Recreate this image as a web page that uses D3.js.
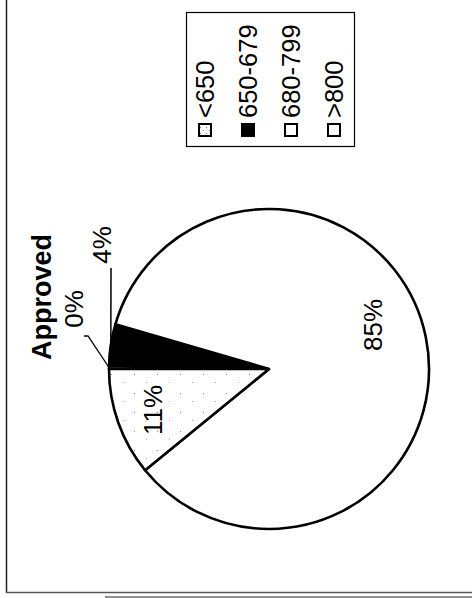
<!DOCTYPE html>
<html>
<head>
<meta charset="utf-8">
<script src="https://cdn.jsdelivr.net/npm/d3@7.9.0/dist/d3.min.js"></script>
<style>
  html, body { margin: 0; padding: 0; background: #fff; }
  svg text { font-family: "Liberation Sans", Arial, sans-serif; fill: #000; }
</style>
</head>
<body>
<svg width="472" height="598"></svg>
<script>
// chart data (page is scanned rotated 90deg, so everything is drawn turned)
const categories = ["<650", "650-679", "680-799", ">800"];
const shares = [0.3, 4.2, 84.6, 10.9];
const title = "Approved";

const svg = d3.select("svg");

// dotted pattern for the <650 / stippled slices
const defs = svg.append("defs");
const dots = defs.append("pattern")
    .attr("id", "dots")
    .attr("width", 6).attr("height", 6)
    .attr("patternUnits", "userSpaceOnUse");
dots.append("rect").attr("width", 6).attr("height", 6).attr("fill", "#fff");
dots.append("rect").attr("x", 1).attr("y", 1).attr("width", 1).attr("height", 1).attr("fill", "#777");
dots.append("rect").attr("x", 4).attr("y", 4).attr("width", 1).attr("height", 1).attr("fill", "#999");

const sparse = defs.append("pattern")
    .attr("id", "sparse")
    .attr("width", 23).attr("height", 19)
    .attr("patternUnits", "userSpaceOnUse");
sparse.append("rect").attr("width", 23).attr("height", 19).attr("fill", "#fff");
sparse.append("rect").attr("x", 3).attr("y", 5).attr("width", 1).attr("height", 1).attr("fill", "#888");
sparse.append("rect").attr("x", 15).attr("y", 13).attr("width", 1).attr("height", 1).attr("fill", "#aaa");

const fills = d3.scaleOrdinal()
    .domain(categories)
    .range(["url(#dots)", "#000", "#fff", "url(#sparse)"]);

// frame of the scanned page
svg.append("line").attr("x1", 6.5).attr("y1", 0).attr("x2", 6.5).attr("y2", 593)
    .attr("stroke", "#222").attr("stroke-width", 1.5);
svg.append("line").attr("x1", 6).attr("y1", 592.5).attr("x2", 472).attr("y2", 592.5)
    .attr("stroke", "#555").attr("stroke-width", 1.5);
svg.append("line").attr("x1", 105).attr("y1", 597).attr("x2", 472).attr("y2", 597)
    .attr("stroke", "#222").attr("stroke-width", 1.2);

// pie
const cx = 269, cy = 369, r = 160;
const pie = d3.pie()
    .sort(null)
    .value(d => d)
    .startAngle(-Math.PI / 2)
    .endAngle(3 * Math.PI / 2);
const arcs = pie(shares);
const arc = d3.arc().innerRadius(0).outerRadius(r);

const g = svg.append("g").attr("transform", `translate(${cx},${cy})`);
g.selectAll("path.slice")
    .data(arcs)
    .enter().append("path")
    .attr("class", "slice")
    .attr("d", arc)
    .attr("fill", (d, i) => fills(categories[i]))
    .attr("stroke", "#000")
    .attr("stroke-width", 2.6)
    .attr("stroke-linejoin", "round");

// percentage labels
const pct = d => Math.round(d) + "%";
const labelPos = [[74, 309], [102, 245], [373, 325], [153, 410]];
svg.selectAll("text.pct")
    .data(arcs)
    .enter().append("text")
    .attr("class", "pct")
    .attr("transform", (d, i) => `translate(${labelPos[i][0]},${labelPos[i][1]}) rotate(-90)`)
    .attr("text-anchor", "middle")
    .attr("dominant-baseline", "central")
    .attr("font-size", 26)
    .text(d => pct(d.value));

// leader lines for the two thin slices
const outer = d3.arc().innerRadius(r).outerRadius(r);
const p0 = outer.centroid(arcs[0]);
const p1 = outer.centroid(arcs[1]);
svg.append("polyline")
    .attr("points", `84,336 88,336 ${cx + p0[0]},${cy + p0[1]}`)
    .attr("fill", "none").attr("stroke", "#000").attr("stroke-width", 1.3);
svg.append("polyline")
    .attr("points", `111,268 ${cx + p1[0]},${cy + p1[1]}`)
    .attr("fill", "none").attr("stroke", "#000").attr("stroke-width", 1.5);

// title
svg.append("text")
    .attr("transform", "translate(42,297) rotate(-90)")
    .attr("text-anchor", "middle")
    .attr("dominant-baseline", "central")
    .attr("font-size", 27)
    .attr("font-weight", "bold")
    .text(title);

// legend
svg.append("rect")
    .attr("x", 186.5).attr("y", 12.5).attr("width", 168).attr("height", 134)
    .attr("fill", "#fff").attr("stroke", "#000").attr("stroke-width", 1.2);

const lx = d3.scalePoint().domain(categories).range([205, 334]);
const leg = svg.selectAll("g.leg")
    .data(categories)
    .enter().append("g")
    .attr("class", "leg")
    .attr("transform", d => `translate(${lx(d)},0)`);
leg.append("rect")
    .attr("x", -6).attr("y", 124).attr("width", 12).attr("height", 12)
    .attr("fill", d => fills(d) === "url(#sparse)" ? "#fff" : fills(d))
    .attr("stroke", "#000").attr("stroke-width", 2);
leg.append("text")
    .attr("transform", "translate(0,118) rotate(-90)")
    .attr("text-anchor", "start")
    .attr("dominant-baseline", "central")
    .attr("font-size", 25.5)
    .text(d => d);
</script>
</body>
</html>
